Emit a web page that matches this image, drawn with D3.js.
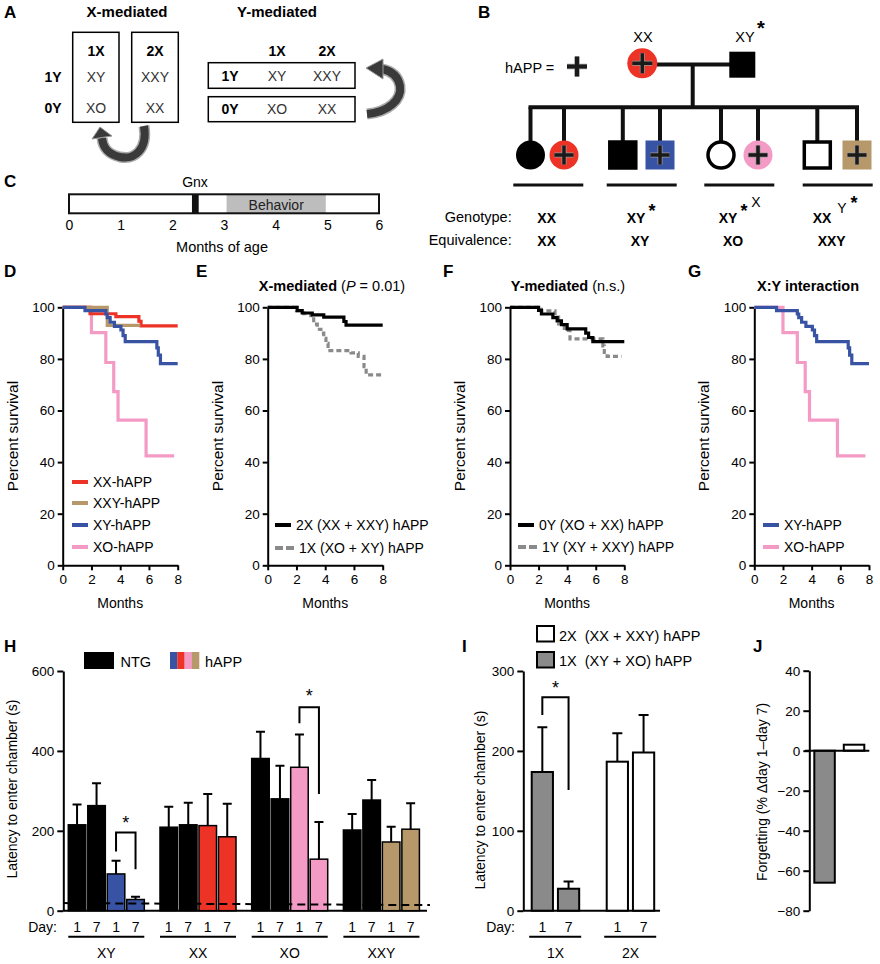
<!DOCTYPE html>
<html>
<head>
<meta charset="utf-8">
<script src="https://cdn.jsdelivr.net/npm/d3@7"></script>
<style>
body { margin: 0; background: #fff; }
svg { font-family: "Liberation Sans", Arial, sans-serif; }
.axis path, .axis line { stroke: #000; stroke-width: 2; }
.axis text { font-size: 13.5px; fill: #000; font-family: "Liberation Sans", Arial, sans-serif; }
</style>
</head>
<body>
<div id="fig"></div>
<script>
// colours
const red = "#ec3326", tan = "#b6986a", blue = "#3953a4", pink = "#f39ac5", grey = "#8a8a8a";

// ---- panel C timeline
const ageTicks = [0, 1, 2, 3, 4, 5, 6];
const gnxMonths = [2.38, 2.51];
const behaviorMonths = [3.05, 4.97];

// ---- survival curves [month, percent survival]
const monthTicks = [0, 2, 4, 6, 8];
const pctTicks = [0, 20, 40, 60, 80, 100];
const survXX = [[0,100],[1.9,97.5],[3.7,96.4],[5.3,94.6],[5.45,92.8],[8,92.8]];
const survXXY = [[0,100],[3.1,93],[5.4,93]];
const survXY = [[0,100],[1.55,98.7],[3.0,97.4],[3.1,96],[3.3,94.2],[3.6,92.6],[4.05,91.2],[4.2,89],[4.35,86.7],[6.55,84.3],[6.65,81.5],[6.8,78.2],[8,78.2]];
const survXO = [[0,100],[2.0,90.2],[3.0,78.6],[3.55,67.3],[3.85,56.3],[5.8,42.4],[7.75,42.4]];
const surv2X = [[0,100],[2.05,98.7],[2.4,97.8],[3.1,97.1],[3.9,96.2],[5.3,94.5],[5.45,93.1],[8,93.1]];
const surv1X = [[0,100],[2.0,98.7],[2.5,97.5],[3.0,95.5],[3.2,93.5],[3.45,91.5],[3.7,90],[3.9,88],[4.05,86],[4.2,83.2],[5.8,82.3],[6.3,81],[6.7,77],[6.85,73.8],[8,73.8]];
const surv0Y = [[0,100],[2.0,98.8],[2.2,97.4],[3.0,96],[3.3,94.7],[3.6,93.3],[4.0,91.6],[5.3,90],[5.5,88.3],[5.8,86.7],[8,86.7]];
const surv1Y = [[0,100],[2.2,98.6],[3.15,96.2],[3.4,93.6],[3.8,91],[4.2,87.8],[6.5,85],[6.6,82.5],[6.8,81],[7.8,81]];

// ---- panel H latency (s), mean and SEM
const genotypes = ["XY", "XX", "XO", "XXY"];
const happColors = [blue, red, pink, tan];
const dayLabels = ["1", "7", "1", "7"];
const ntgDay1 = [215, 209, 381, 202];
const ntgDay7 = [263, 215, 280, 277];
const appDay1 = [92, 213, 359, 172];
const appDay7 = [28, 185, 129, 204];
const ntgDay1Sem = [51, 51, 67, 40];
const ntgDay7Sem = [56, 55, 83, 50];
const appDay1Sem = [33, 79, 82, 38];
const appDay7Sem = [7, 83, 93, 65];
const latTicks = [0, 200, 400, 600];
const chanceLatency = [19, 14];
// brackets: [genotype, left leg bottom, top, right leg bottom, star]
const hBrackets = [["XY", 148, 196, 104, 227], ["XO", 469, 509, 292, 546]];

// ---- panel I
const xGroups = ["1X", "2X"];
const iMean = [[173.6, 27.5], [186.5, 198]];
const iSem = [[56, 9.2], [35.5, 47]];
const iTicks = [0, 100, 200, 300];
const iBracket = [245, 267, 151, 282];

// ---- panel J forgetting (%)
const forgetting = [-66, 3];
const jTicks = [-80, -60, -40, -20, 0, 20, 40];

const svg = d3.select("#fig").append("svg").attr("width", 880).attr("height", 964);

function txt(x, y, s, opt = {}) {
  return svg.append("text").attr("x", x).attr("y", y)
    .attr("font-size", opt.size || 14)
    .attr("font-weight", opt.bold ? "bold" : null)
    .attr("text-anchor", opt.anchor || "start")
    .attr("fill", opt.fill || "#000")
    .text(s);
}
function vtxt(x, y, s, size = 14) {
  return svg.append("text").attr("transform", `translate(${x},${y}) rotate(-90)`)
    .attr("text-anchor", "middle").attr("font-size", size).text(s);
}
function plus(cx, cy, h, w = 3.5) {
  svg.append("path").attr("d", `M${cx-h},${cy}H${cx+h}M${cx},${cy-h}V${cy+h}`)
    .attr("stroke", "#999").attr("stroke-width", w + 1.5);
  svg.append("path").attr("d", `M${cx-h},${cy}H${cx+h}M${cx},${cy-h}V${cy+h}`)
    .attr("stroke", "#1a1a1a").attr("stroke-width", w);
}

// panel letters
[["A",4,18],["B",478,18],["C",4,187],["D",4,277],["E",196,277],["F",443,277],["G",688,277],["H",4,652],["I",462,652],["J",753,652]]
  .forEach(d => txt(d[1], d[2], d[0], {size: 17, bold: true}));

// ================= A
txt(127, 17, "X-mediated", {bold: true, anchor: "middle", size: 15});
txt(277, 17, "Y-mediated", {bold: true, anchor: "middle", size: 15});
svg.append("rect").attr("x", 72.7).attr("y", 32.3).attr("width", 46.3).attr("height", 90).attr("fill", "none").attr("stroke", "#000").attr("stroke-width", 1.5);
svg.append("rect").attr("x", 131.7).attr("y", 32.3).attr("width", 46.6).attr("height", 90).attr("fill", "none").attr("stroke", "#000").attr("stroke-width", 1.5);
txt(96, 56, "1X", {bold: true, anchor: "middle"});
txt(155, 56, "2X", {bold: true, anchor: "middle"});
txt(53, 82, "1Y", {bold: true, anchor: "middle"});
txt(53, 113, "0Y", {bold: true, anchor: "middle"});
txt(96, 82, "XY", {anchor: "middle", fill: "#333"});
txt(155, 82, "XXY", {anchor: "middle", fill: "#333"});
txt(96, 113, "XO", {anchor: "middle", fill: "#333"});
txt(155, 113, "XX", {anchor: "middle", fill: "#333"});
// Y-mediated rows
svg.append("rect").attr("x", 208.3).attr("y", 62.7).attr("width", 146.7).attr("height", 25.6).attr("fill", "none").attr("stroke", "#000").attr("stroke-width", 1.5);
svg.append("rect").attr("x", 208.3).attr("y", 96.7).attr("width", 146.7).attr("height", 25).attr("fill", "none").attr("stroke", "#000").attr("stroke-width", 1.5);
txt(277, 56, "1X", {bold: true, anchor: "middle"});
txt(327, 56, "2X", {bold: true, anchor: "middle"});
txt(230, 81, "1Y", {bold: true, anchor: "middle"});
txt(230, 114, "0Y", {bold: true, anchor: "middle"});
txt(277, 81, "XY", {anchor: "middle", fill: "#333"});
txt(327, 81, "XXY", {anchor: "middle", fill: "#333"});
txt(277, 114, "XO", {anchor: "middle", fill: "#333"});
txt(327, 114, "XX", {anchor: "middle", fill: "#333"});
// curved arrows
function arrow(d, head) {
  svg.append("path").attr("d", d).attr("fill", "none").attr("stroke", "#aaa").attr("stroke-width", 11);
  svg.append("path").attr("d", d).attr("fill", "none").attr("stroke", "#3a3a3a").attr("stroke-width", 8);
  svg.append("polygon").attr("points", head).attr("fill", "#3a3a3a").attr("stroke", "#999").attr("stroke-width", 1);
}
arrow("M144,126 C148,150 134,160 120,157 C108,154 103,148 102,138", "92,139 112,136 100,127");
arrow("M367,114 C388,112 402,100 400,86 C398,76 392,71 382,69", "383,59 383,79 366,68");

// ================= B
txt(505, 73, "hAPP =", {size: 14.5});
plus(577, 66.5, 10, 4);
txt(643, 42, "XX", {anchor: "middle", size: 14.5});
txt(745, 42, "XY", {anchor: "middle", size: 14.5});
txt(761, 35, "*", {anchor: "middle", size: 20, bold: true});
svg.append("path").attr("d", "M642,64.5H742M692.7,64.5V107.3").attr("stroke", "#111").attr("stroke-width", 4).attr("fill", "none");
svg.append("circle").attr("cx", 642.3).attr("cy", 63.3).attr("r", 15).attr("fill", red);
plus(642.3, 63.3, 10);
svg.append("rect").attr("x", 729.3).attr("y", 51.7).attr("width", 26).attr("height", 26).attr("fill", "#000");
const kids = [
  {x: 530.5, shape: "circle", fill: "#000", ring: false, plus: false},
  {x: 564, shape: "circle", fill: red, ring: false, plus: true},
  {x: 622.8, shape: "square", fill: "#000", ring: true, plus: false},
  {x: 660, shape: "square", fill: blue, ring: false, plus: true},
  {x: 721, shape: "circle", fill: "#fff", ring: true, plus: false},
  {x: 758, shape: "circle", fill: pink, ring: false, plus: true},
  {x: 817.3, shape: "square", fill: "#fff", ring: true, plus: false},
  {x: 857, shape: "square", fill: tan, ring: false, plus: true}
];
svg.append("path").attr("d", `M${kids[0].x - 2},107.3H${kids[7].x + 2}`).attr("stroke", "#111").attr("stroke-width", 4);
kids.forEach(k => {
  svg.append("path").attr("d", `M${k.x},107.3V142`).attr("stroke", "#111").attr("stroke-width", 4);
  if (k.shape === "circle") {
    svg.append("circle").attr("cx", k.x).attr("cy", 155).attr("r", k.ring ? 13 : 14.5)
      .attr("fill", k.fill).attr("stroke", k.ring ? "#000" : "none").attr("stroke-width", 3.5);
  } else {
    const s = k.ring ? 26 : 29;
    svg.append("rect").attr("x", k.x - s / 2).attr("y", 155 - s / 2).attr("width", s).attr("height", s)
      .attr("fill", k.fill).attr("stroke", k.ring ? "#000" : "none").attr("stroke-width", 3.5);
  }
  if (k.plus) plus(k.x, 155, 9.5);
});
[[513.3, 583.3], [606.7, 676.7], [704.3, 774.3], [802.7, 872.7]].forEach(d =>
  svg.append("path").attr("d", `M${d[0]},185H${d[1]}`).attr("stroke", "#111").attr("stroke-width", 3));
txt(511.7, 222, "Genotype:", {anchor: "end", size: 14.5});
txt(511.7, 245, "Equivalence:", {anchor: "end", size: 14.5});
const genoCx = [546.7, 640, 733, 831.7];
const equivalence = ["XX", "XY", "XO", "XXY"];
txt(genoCx[0], 223, "XX", {anchor: "middle", bold: true});
txt(636, 223, "XY", {anchor: "middle", bold: true});
txt(652, 217, "*", {anchor: "middle", bold: true, size: 18});
txt(728, 223, "XY", {anchor: "middle", bold: true});
txt(744, 217, "*", {anchor: "middle", bold: true, size: 18});
txt(756, 207, "X", {anchor: "middle", size: 14});
txt(822, 223, "XX", {anchor: "middle", bold: true});
txt(842, 213, "Y", {anchor: "middle", size: 14});
txt(854, 209, "*", {anchor: "middle", bold: true, size: 18});
equivalence.forEach((e, i) => txt(genoCx[i], 246, e, {anchor: "middle", bold: true}));

// ================= C
const ageX = d3.scaleLinear().domain([0, 6]).range([69, 379]);
txt(195, 187, "Gnx", {anchor: "middle", size: 14});
svg.append("rect").attr("x", ageX(behaviorMonths[0])).attr("y", 195).attr("width", ageX(behaviorMonths[1]) - ageX(behaviorMonths[0])).attr("height", 18).attr("fill", "#bdbdbd");
svg.append("rect").attr("x", ageX(gnxMonths[0])).attr("y", 194.3).attr("width", ageX(gnxMonths[1]) - ageX(gnxMonths[0])).attr("height", 19).attr("fill", "#111");
svg.append("rect").attr("x", ageX(0)).attr("y", 194.3).attr("width", ageX(6) - ageX(0)).attr("height", 19).attr("fill", "none").attr("stroke", "#111").attr("stroke-width", 2);
txt(ageX((behaviorMonths[0] + behaviorMonths[1]) / 2), 209.5, "Behavior", {anchor: "middle", size: 14, fill: "#222"});
svg.append("g").attr("transform", "translate(0,214)")
  .call(d3.axisBottom(ageX).tickValues(ageTicks).tickFormat(d3.format("d")).tickSize(0).tickPadding(6))
  .call(g => g.select(".domain").remove())
  .selectAll("text").attr("font-size", 14).attr("font-family", "Liberation Sans, Arial, sans-serif");
txt(222, 252, "Months of age", {anchor: "middle", size: 14.5});

// ================= D-G survival
const lineGen = d3.line().curve(d3.curveStepAfter);
const survPanels = [
  {x0: 62.7, x1: 177.7, legX: 72, series: [
    {d: survXX, c: red, l: "XX-hAPP"}, {d: survXXY, c: tan, l: "XXY-hAPP"},
    {d: survXY, c: blue, l: "XY-hAPP"}, {d: survXO, c: pink, l: "XO-hAPP"}],
    draw: [3, 0, 1, 2], legY: [482, 503, 525, 547]},
  {x0: 267.7, x1: 382.7, legX: 275, series: [
    {d: surv2X, c: "#000", l: "2X (XX + XXY) hAPP"}, {d: surv1X, c: grey, l: "1X (XO + XY) hAPP", dash: true}],
    draw: [1, 0], legY: [525, 548], title: ["X-mediated", " (", "P", " = 0.01)"], tx: 332},
  {x0: 510, x1: 624.3, legX: 518, series: [
    {d: surv0Y, c: "#000", l: "0Y (XO + XX) hAPP"}, {d: surv1Y, c: grey, l: "1Y (XY + XXY) hAPP", dash: true}],
    draw: [1, 0], legY: [525, 547], title: ["Y-mediated", " (n.s.)"], tx: 568},
  {x0: 754.3, x1: 869, legX: 763, series: [
    {d: survXY, c: blue, l: "XY-hAPP"}, {d: survXO, c: pink, l: "XO-hAPP"}],
    draw: [1, 0], legY: [525, 547], title: ["X:Y interaction"], tx: 808}
];
survPanels.forEach(p => {
  const x = d3.scaleLinear().domain([0, 8]).range([p.x0, p.x1]);
  const y = d3.scaleLinear().domain([0, 100]).range([565.3, 307.3]);
  svg.append("g").attr("class", "axis").attr("transform", `translate(${p.x0},0)`)
    .call(d3.axisLeft(y).tickValues(pctTicks).tickSize(5).tickSizeOuter(0).tickPadding(3));
  svg.append("g").attr("class", "axis").attr("transform", "translate(0,565.3)")
    .call(d3.axisBottom(x).tickValues(monthTicks).tickSize(5).tickSizeOuter(0).tickPadding(4));
  p.draw.forEach(i => {
    const s = p.series[i];
    svg.append("path").attr("d", lineGen(s.d.map(v => [x(v[0]), y(v[1])])))
      .attr("fill", "none").attr("stroke", s.c).attr("stroke-width", 3.2)
      .attr("stroke-dasharray", s.dash ? "5,3" : null);
  });
  p.series.forEach((s, i) => {
    svg.append("path").attr("d", `M${p.legX},${p.legY[i]}h${s.dash ? 19 : 16}`)
      .attr("stroke", s.c).attr("stroke-width", 4).attr("stroke-dasharray", s.dash ? "8,3" : null);
    txt(p.legX + (s.dash ? 24 : 21), p.legY[i] + 5, s.l, {size: 14});
  });
  vtxt(p.x0 - 45, 436, "Percent survival", 15.5);
  txt((p.x0 + p.x1) / 2, 608, "Months", {anchor: "middle", size: 14});
  if (p.title) {
    const t = svg.append("text").attr("x", p.tx).attr("y", 291).attr("text-anchor", "middle").attr("font-size", 14.5);
    p.title.forEach((s, j) => t.append("tspan").text(s)
      .attr("font-weight", j === 0 ? "bold" : null)
      .attr("font-style", s === "P" ? "italic" : null));
  }
});

// ================= H
const hy = d3.scaleLinear().domain([0, 600]).range([910.7, 671]);
const hx = d3.scaleBand().domain(genotypes).range([63.7, 424]).paddingInner(0.171).paddingOuter(0.05);
const hIn = d3.scaleBand().domain([0, 1, 2, 3]).range([0, hx.bandwidth()]).paddingInner(0.1);
svg.append("g").attr("class", "axis").attr("transform", "translate(63.3,0)")
  .call(d3.axisLeft(hy).tickValues(latTicks).tickSize(6).tickSizeOuter(0).tickPadding(3));
svg.append("path").attr("d", `M63.3,${hy(0)}H427`).attr("stroke", "#000").attr("stroke-width", 2);
genotypes.forEach((g, gi) => {
  const means = [ntgDay1[gi], ntgDay7[gi], appDay1[gi], appDay7[gi]];
  const sems = [ntgDay1Sem[gi], ntgDay7Sem[gi], appDay1Sem[gi], appDay7Sem[gi]];
  means.forEach((m, k) => {
    const bx = hx(g) + hIn(k), bw = hIn.bandwidth(), cx = bx + bw / 2;
    svg.append("path").attr("d", `M${cx},${hy(m)}V${hy(m + sems[k])}M${cx - 4.5},${hy(m + sems[k])}H${cx + 4.5}`)
      .attr("stroke", "#000").attr("stroke-width", 2);
    svg.append("rect").attr("x", bx).attr("y", hy(m)).attr("width", bw).attr("height", hy(0) - hy(m))
      .attr("fill", k < 2 ? "#000" : happColors[gi]).attr("stroke", "#000").attr("stroke-width", 1.5);
    txt(cx, 931.5, dayLabels[k], {anchor: "middle", size: 14});
  });
  svg.append("path").attr("d", `M${hx(g)},936.7H${hx(g) + hx.bandwidth()}`).attr("stroke", "#000").attr("stroke-width", 2);
  txt(hx(g) + hx.bandwidth() / 2, 958, g, {anchor: "middle", size: 14});
});
txt(57, 931.5, "Day:", {anchor: "end", size: 14});
svg.append("path").attr("d", `M63.3,${hy(chanceLatency[0])}L430,${hy(chanceLatency[1])}`)
  .attr("stroke", "#000").attr("stroke-width", 2).attr("stroke-dasharray", "8,5");
hBrackets.forEach(b => {
  const l = hx(b[0]) + hIn(2) + hIn.bandwidth() / 2, r = hx(b[0]) + hIn(3) + hIn.bandwidth() / 2;
  svg.append("path").attr("d", `M${l},${hy(b[1])}V${hy(b[2])}H${r}V${hy(b[3])}`)
    .attr("fill", "none").attr("stroke", "#000").attr("stroke-width", 2);
  txt((l + r) / 2, hy(b[4]) + 9, "*", {anchor: "middle", size: 18});
});
vtxt(17, 789, "Latency to enter chamber (s)", 14);
svg.append("rect").attr("x", 84).attr("y", 652).attr("width", 30).attr("height", 17).attr("fill", "#000");
txt(120.5, 666.5, "NTG", {size: 14.5});
happColors.forEach((c, i) => svg.append("rect").attr("x", 170 + i * 7.3).attr("y", 652).attr("width", 7.4).attr("height", 17).attr("fill", c));
txt(205, 666.5, "hAPP", {size: 14.5});

// ================= I
const iy = d3.scaleLinear().domain([0, 300]).range([910.7, 671]);
const ix = d3.scaleBand().domain(xGroups).range([523.3, 662.6]).paddingInner(0.367).paddingOuter(0.112);
const iIn = d3.scaleBand().domain([0, 1]).range([0, ix.bandwidth()]).paddingInner(0.19);
svg.append("g").attr("class", "axis").attr("transform", "translate(523.3,0)")
  .call(d3.axisLeft(iy).tickValues(iTicks).tickSize(6).tickSizeOuter(0).tickPadding(3));
svg.append("path").attr("d", `M523.3,${iy(0)}H660`).attr("stroke", "#000").attr("stroke-width", 2);
xGroups.forEach((g, gi) => {
  iMean[gi].forEach((m, k) => {
    const bx = ix(g) + iIn(k), bw = iIn.bandwidth(), cx = bx + bw / 2, top = iy(m + iSem[gi][k]);
    svg.append("path").attr("d", `M${cx},${iy(m)}V${top}M${cx - 5},${top}H${cx + 5}`).attr("stroke", "#000").attr("stroke-width", 2);
    svg.append("rect").attr("x", bx).attr("y", iy(m)).attr("width", bw).attr("height", iy(0) - iy(m))
      .attr("fill", gi === 0 ? grey : "#fff").attr("stroke", "#000").attr("stroke-width", 2);
    txt(cx, 931.5, k === 0 ? "1" : "7", {anchor: "middle", size: 14});
  });
  svg.append("path").attr("d", `M${ix(g) - 2.5},936.7H${ix(g) + ix.bandwidth() + 2}`).attr("stroke", "#000").attr("stroke-width", 2);
  txt(ix(g) + ix.bandwidth() / 2, 958, g, {anchor: "middle", size: 14});
});
txt(515, 931.5, "Day:", {anchor: "end", size: 14});
{
  const l = ix("1X") + iIn(0) + iIn.bandwidth() / 2, r = ix("1X") + iIn(1) + iIn.bandwidth() / 2;
  svg.append("path").attr("d", `M${l},${iy(iBracket[0])}V${iy(iBracket[1])}H${r}V${iy(iBracket[2])}`)
    .attr("fill", "none").attr("stroke", "#000").attr("stroke-width", 2);
  txt((l + r) / 2, iy(iBracket[3]) + 9, "*", {anchor: "middle", size: 18});
}
vtxt(485, 800, "Latency to enter chamber (s)", 14);
svg.append("rect").attr("x", 537).attr("y", 626).attr("width", 17).attr("height", 15.5).attr("fill", "#fff").attr("stroke", "#000").attr("stroke-width", 2);
svg.append("rect").attr("x", 537).attr("y", 652).attr("width", 17).attr("height", 15.5).attr("fill", grey).attr("stroke", "#000").attr("stroke-width", 2);
txt(559, 640.5, "2X\u00a0\u00a0(XX + XXY) hAPP", {size: 14.5});
txt(559, 665.5, "1X\u00a0\u00a0(XY + XO) hAPP", {size: 14.5});

// ================= J
const jy = d3.scaleLinear().domain([-80, 40]).range([910.7, 670.7]);
const jx = d3.scaleBand().domain(xGroups).range([809.3, 869.3]).paddingInner(0.305).paddingOuter(0.17);
svg.append("g").attr("class", "axis").attr("transform", "translate(809.3,0)")
  .call(d3.axisLeft(jy).tickValues(jTicks).tickSize(6).tickSizeOuter(0).tickPadding(3));
forgetting.forEach((v, i) => {
  svg.append("rect").attr("x", jx(xGroups[i])).attr("y", jy(Math.max(0, v))).attr("width", jx.bandwidth())
    .attr("height", Math.abs(jy(v) - jy(0))).attr("fill", i === 0 ? grey : "#fff").attr("stroke", "#000").attr("stroke-width", 2);
});
svg.append("path").attr("d", `M805,${jy(0)}H869.3`).attr("stroke", "#000").attr("stroke-width", 2);
vtxt(767, 792, "Forgetting (% \u0394day 1\u2013day 7)", 14);
</script>
</body>
</html>
